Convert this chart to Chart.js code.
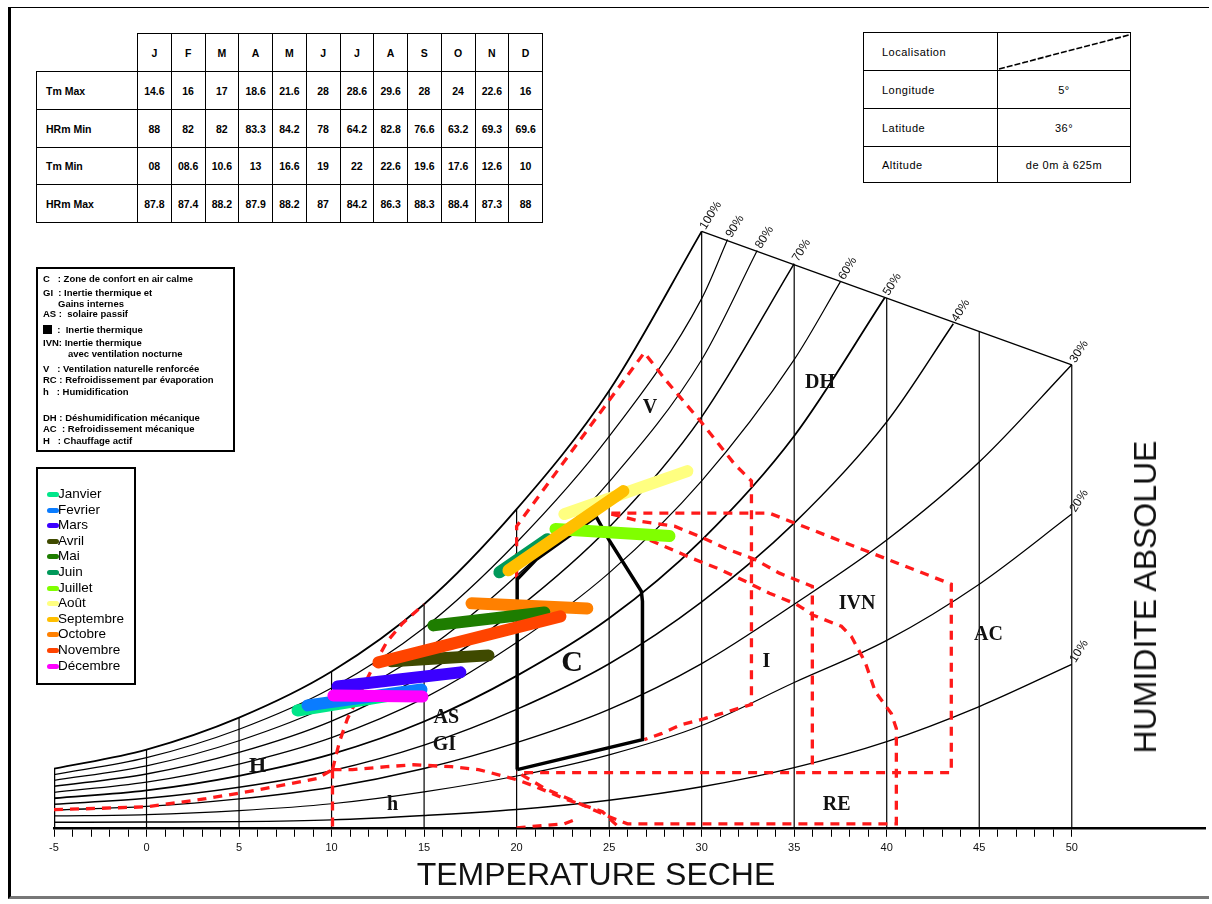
<!DOCTYPE html>
<html lang="fr">
<head>
<meta charset="UTF-8">
<title>Diagramme bioclimatique</title>
<style>
  body { margin: 0; background: #fff; font-family: "Liberation Sans", Arial, sans-serif; }
  #wrap { position: relative; width: 1212px; height: 904px; overflow: hidden; }
  #psy { position: absolute; left: 0; top: 0; }
  .frame { position: absolute; left: 8px; top: 7px; width: 1198px; height: 888px;
           border-left: 3px solid #000; border-top: 1px solid #000; border-bottom: 3px solid #777; }
  table { border-collapse: collapse; position: absolute; background: #fff; table-layout: fixed; }
  #climat { left: 36px; top: 33px; }
  #climat td { border: 1.5px solid #000; font-weight: bold; font-size: 10.5px; text-align: center; padding: 0; }
  #climat td.lbl { text-align: left; padding-left: 9px; }
  #climat td.empty { border: none; }
  #lieu { left: 863px; top: 32px; }
  #lieu td { border: 1.5px solid #000; font-size: 11px; letter-spacing: 0.5px; padding: 0; }
  #lieu td.k { padding-left: 18px; }
  #lieu td.v { text-align: center; }
  .box { position: absolute; border: 2px solid #000; background: #fff; }
  #zones div { position: absolute; font-size: 9.5px; font-weight: bold; white-space: nowrap; line-height: 10px; }
  #mois div { position: absolute; left: 20px; font-size: 13.5px; line-height: 14px; white-space: nowrap; }
  #mois span { position: absolute; left: -11px; top: 5px; width: 12px; height: 5px; border-radius: 3px; }
  .title { position: absolute; font-size: 32px; color: #111; white-space: nowrap; line-height: 36px; }
</style>
</head>
<body>
<div id="wrap">
  <canvas id="psy" width="1212" height="904"></canvas>
  <div class="frame"></div>

  <table id="climat">
    <colgroup>
      <col style="width:101px">
      <col style="width:33.75px"><col style="width:33.75px"><col style="width:33.75px"><col style="width:33.75px">
      <col style="width:33.75px"><col style="width:33.75px"><col style="width:33.75px"><col style="width:33.75px">
      <col style="width:33.75px"><col style="width:33.75px"><col style="width:33.75px"><col style="width:33.75px">
    </colgroup>
    <tbody id="climatBody"></tbody>
  </table>

  <table id="lieu">
    <colgroup><col style="width:134px"><col style="width:133px"></colgroup>
    <tr style="height:38px"><td class="k">Localisation</td>
      <td style="position:relative"><svg width="131" height="36" style="display:block"><line x1="1" y1="35" x2="131" y2="1" stroke="#000" stroke-width="1.6" stroke-dasharray="6,2"/></svg></td></tr>
    <tr style="height:38px"><td class="k">Longitude</td><td class="v">5°</td></tr>
    <tr style="height:38px"><td class="k">Latitude</td><td class="v">36°</td></tr>
    <tr style="height:36px"><td class="k">Altitude</td><td class="v">de 0m à 625m</td></tr>
  </table>

  <div id="zones" class="box" style="left:36px; top:267px; width:195px; height:181px;">
    <div style="left:5px; top:5px">C &nbsp;&nbsp;: Zone de confort en air calme</div>
    <div style="left:5px; top:19px">GI &nbsp;: Inertie thermique et</div>
    <div style="left:20px; top:30px">Gains internes</div>
    <div style="left:5px; top:40px">AS : &nbsp;solaire passif</div>
    <div style="left:5px; top:56px"><span style="display:inline-block; width:9px; height:9px; background:#000; vertical-align:-1px"></span> &nbsp;: &nbsp;Inertie thermique</div>
    <div style="left:5px; top:69px">IVN: Inertie thermique</div>
    <div style="left:30px; top:80px">avec ventilation nocturne</div>
    <div style="left:5px; top:95px">V &nbsp;&nbsp;: Ventilation naturelle renforcée</div>
    <div style="left:5px; top:106px">RC : Refroidissement par évaporation</div>
    <div style="left:5px; top:118px">h &nbsp;&nbsp;: Humidification</div>
    <div style="left:5px; top:144px">DH : Déshumidification mécanique</div>
    <div style="left:5px; top:155px">AC &nbsp;: Refroidissement mécanique</div>
    <div style="left:5px; top:167px">H &nbsp;&nbsp;: Chauffage actif</div>
  </div>

  <div id="mois" class="box" style="left:36px; top:467px; width:96px; height:214px;"></div>

  <div class="title" style="left:596px; top:856px; transform:translateX(-50%)">TEMPERATURE SECHE</div>
  <div class="title" style="left:1145px; top:597px; transform:translate(-50%,-50%) rotate(-90deg)">HUMIDITE ABSOLUE</div>
</div>

<script src="https://cdn.jsdelivr.net/npm/chart.js@4.4.0/dist/chart.umd.min.js"></script>
<script>
// ---- tableau climatique ----
var moisCourts = ['J', 'F', 'M', 'A', 'M', 'J', 'J', 'A', 'S', 'O', 'N', 'D'];
var tmMax  = ['14.6', '16', '17', '18.6', '21.6', '28', '28.6', '29.6', '28', '24', '22.6', '16'];
var hrmMin = ['88', '82', '82', '83.3', '84.2', '78', '64.2', '82.8', '76.6', '63.2', '69.3', '69.6'];
var tmMin  = ['08', '08.6', '10.6', '13', '16.6', '19', '22', '22.6', '19.6', '17.6', '12.6', '10'];
var hrmMax = ['87.8', '87.4', '88.2', '87.9', '88.2', '87', '84.2', '86.3', '88.3', '88.4', '87.3', '88'];

// ---- courbes d'humidite relative (humidite absolue, g/kg) ----
var temps = [-5, 0, 5, 10, 15, 20, 25, 30, 35, 40, 45, 50];
var hr100 = [2.68, 3.55, 5.00, 7.09, 10.14, 14.45, 19.82, 27.05];
var hr90  = [2.41, 3.18, 4.47, 6.34, 9.07, 12.94, 17.75, 24.00];
var hr80  = [2.15, 2.81, 3.95, 5.59, 8.01, 11.43, 15.69, 21.23];
var hr70  = [1.88, 2.44, 3.42, 4.84, 6.95, 9.91, 13.63, 18.64, 25.59];
var hr60  = [1.61, 2.07, 2.89, 4.09, 5.88, 8.40, 11.56, 15.73, 21.23];
var hr50  = [1.34, 1.70, 2.36, 3.34, 4.82, 6.89, 9.50, 13.05, 17.77];
var hr40  = [1.07, 1.34, 1.84, 2.59, 3.75, 5.37, 7.44, 10.25, 13.82, 18.41];
var hr30  = [0.80, 0.97, 1.31, 1.84, 2.69, 3.86, 5.37, 7.45, 10.14, 13.05, 16.59, 21.00];
var hr20  = [0.54, 0.60, 0.78, 1.09, 1.63, 2.35, 3.31, 4.64, 6.59, 8.50, 11.05, 14.23];
var hr10  = [0.25, 0.26, 0.28, 0.36, 0.56, 0.83, 1.25, 1.86, 2.73, 3.91, 5.50, 7.41];
var hrLevels = [100, 90, 80, 70, 60, 50, 40, 30, 20, 10];
var hrEndT = [30, 31.4, 33.0, 35, 37.5, 39.9, 43.6, 50, 50, 50];
var hrEndV = [27.05, 26.68, 26.18, 25.59, 24.77, 24.05, 22.86, 21.00, 14.23, 7.41];
var hrWidth = [1.8, 1.2, 1.2, 1.5, 1.2, 1.8, 1.5, 1.4, 1.2, 1.4];
var limitT = [30, 50];
var limitV = [27.05, 21.00];
var verticalTop = [2.68, 3.55, 5.00, 7.09, 10.14, 14.45, 19.82, 27.05, 25.54, 24.03, 22.51, 21.00];

// ---- zones (traits rouges) ----
var zoneH   = [[-5, 0.82], [0, 0.95], [3.2, 1.32], [6.1, 1.73], [9.2, 2.23], [10.05, 2.64]];
var zoneAS  = [[10.05, 2.64], [10.43, 3.91], [10.86, 4.95], [12.2, 7.23], [13.0, 8.45], [13.83, 9.27], [15.0, 10.14]];
var zoneHum = [[10.05, 2.64], [10.05, 0]];
var zoneGI  = [[10.05, 2.64], [11.13, 2.64], [12.97, 2.77], [14.42, 2.86], [16.48, 2.77], [17.94, 2.64], [19.4, 2.32],
               [20, 2.18], [20.9, 1.91], [22.58, 1.32], [24.64, 0.73], [25.55, 0]];
var zoneRE  = [[20.26, 2.41], [21.56, 1.77], [23.18, 1.18], [25.01, 0.5], [25.99, 0.18], [40.52, 0.18], [40.52, 4.5],
               [40.25, 5.18], [39.38, 6.18], [38.84, 7.5], [38.09, 8.68], [37.55, 9.14], [36.03, 9.64], [35.12, 10.14],
               [33.66, 10.64], [32.36, 11.18], [30.96, 11.73], [29.34, 12.27], [27.98, 12.77], [26.09, 13.45]];
var zoneRE2 = [[20, 0], [22.58, 0.18], [23.12, 0.36]];
var zoneV   = [[20, 11.32], [20, 13.68], [26.9, 21.55], [28.09, 20.27], [29.93, 18.45], [31.77, 16.5], [32.69, 15.73],
               [32.69, 5.59], [31.77, 5.36], [30.15, 4.95], [28.9, 4.68], [27.82, 4.27], [26.9, 4.0]];
var zoneAC  = [[25.12, 14.27], [33.66, 14.27], [43.49, 11.05], [43.49, 2.5], [20, 2.5]];
var zoneIVN = [[25.12, 14.23], [26.63, 13.91], [28.53, 13.68], [29.98, 13.18], [31.39, 12.64], [32.85, 12.18],
               [34.2, 11.55], [35.98, 10.95], [35.98, 2.64]];

// ---- zone de confort ----
var comfortT = [20.03, 20.03, 21.07, 24.3, 25.0, 26.74, 26.8, 26.8, 20.03];
var comfortV = [2.64, 11.27, 12.18, 14.11, 13.05, 10.73, 10.27, 4.0, 2.64];

// ---- mois ----
var monthNames  = ['Janvier', 'Fevrier', 'Mars', 'Avril', 'Mai', 'Juin', 'Juillet', 'Août', 'Septembre', 'Octobre', 'Novembre', 'Décembre'];
var monthColors = ['#00e68a', '#0a7cff', '#3b00ff', '#3f4a00', '#1e7d00', '#00995a', '#80ff00', '#ffff80', '#ffbf00', '#ff8000', '#ff4400', '#ff00ff'];
var monthT1 = [8.16, 8.7, 10.32, 13.24, 15.5, 19.07, 22.1, 22.58, 19.56, 17.56, 12.53, 10.1];
var monthV1 = [5.32, 5.55, 6.41, 7.55, 9.18, 11.59, 13.55, 14.23, 11.68, 10.18, 7.5, 6.0];
var monthT2 = [14.48, 14.86, 16.96, 18.48, 21.5, 21.66, 28.26, 29.23, 25.77, 23.82, 22.37, 14.91];
var monthV2 = [6.18, 6.27, 7.05, 7.82, 9.77, 13.09, 13.23, 16.18, 15.27, 9.95, 9.59, 5.95];
var monthLayer = [2, 1, 1, 2, 2, 2, 1, 1, 0, 2, 1, 0];

// ---- etiquettes des zones ----
var zoneLabels = ['V', 'DH', 'C', 'AS', 'GI', 'H', 'h', 'I', 'IVN', 'AC', 'RE'];
var zoneLabelT = [27.2, 36.4, 23.0, 16.2, 16.1, 6.0, 13.3, 33.5, 38.4, 45.5, 37.3];
var zoneLabelV = [19.05, 20.18, 7.45, 5.0, 3.77, 2.77, 1.05, 7.55, 10.18, 8.73, 1.05];
var zoneLabelSize = [20, 20, 30, 20, 20, 22, 20, 20, 20, 20, 20];

// tableau HTML
function buildTable() {
  var body = document.getElementById('climatBody');
  var html = '<tr style="height:38px"><td class="empty"></td>';
  moisCourts.forEach(function (m) { html += '<td>' + m + '</td>'; });
  html += '</tr>';
  var rows = [['Tm Max', tmMax], ['HRm Min', hrmMin], ['Tm Min', tmMin], ['HRm Max', hrmMax]];
  var heights = [38, 38, 37, 38];
  rows.forEach(function (r, k) {
    html += '<tr style="height:' + heights[k] + 'px"><td class="lbl">' + r[0] + '</td>';
    r[1].forEach(function (v) { html += '<td>' + v + '</td>'; });
    html += '</tr>';
  });
  body.innerHTML = html;
}

function buildMonthLegend() {
  var box = document.getElementById('mois');
  monthNames.forEach(function (name, i) {
    var d = document.createElement('div');
    d.style.top = (18 + 15.6 * i) + 'px';
    d.innerHTML = '<span style="background:' + monthColors[i] + '"></span>' + name;
    box.appendChild(d);
  });
}

function pts(list) {
  return list.map(function (p) { return { x: p[0], y: p[1] }; });
}

function line(points, color, width, extra) {
  var ds = {
    data: points, showLine: true, borderColor: color, borderWidth: width,
    pointRadius: 0, pointHoverRadius: 0, fill: false, tension: 0, order: 30
  };
  return Object.assign(ds, extra || {});
}

function buildDatasets() {
  var sets = [];
  var series = [hr100, hr90, hr80, hr70, hr60, hr50, hr40, hr30, hr20, hr10];

  // mois
  monthNames.forEach(function (name, i) {
    sets.push(line([{ x: monthT1[i], y: monthV1[i] }, { x: monthT2[i], y: monthV2[i] }],
      monthColors[i], 12, { borderCapStyle: 'round', order: monthLayer[i], label: name }));
  });

  // zone de confort
  sets.push(line(comfortT.map(function (t, i) { return { x: t, y: comfortV[i] }; }), '#000', 3.5,
    { order: 10, borderJoinStyle: 'miter' }));

  // zones en pointilles rouges
  [zoneH, zoneAS, zoneHum, zoneGI, zoneRE, zoneRE2, zoneV, zoneAC, zoneIVN].forEach(function (z) {
    sets.push(line(pts(z), '#ff1a1a', 3.3, { borderDash: [9, 7], order: 20 }));
  });

  // courbes HR
  series.forEach(function (s, k) {
    var p = s.map(function (v, i) { return { x: temps[i], y: v }; });
    if (hrEndT[k] > temps[s.length - 1]) p.push({ x: hrEndT[k], y: hrEndV[k] });
    sets.push(line(p, '#000', hrWidth[k], { cubicInterpolationMode: 'monotone' }));
  });

  // limite superieure
  sets.push(line([{ x: limitT[0], y: limitV[0] }, { x: limitT[1], y: limitV[1] }], '#000', 1.3));

  // verticales de temperature
  temps.forEach(function (t, i) {
    sets.push(line([{ x: t, y: 0 }, { x: t, y: verticalTop[i] }], '#000', i === 0 ? 2.5 : 1.2));
  });
  return sets;
}

var labelPlugin = {
  id: 'chartLabels',
  afterDatasetsDraw: function (chart) {
    var ctx = chart.ctx, xs = chart.scales.x, ys = chart.scales.y;
    ctx.save();
    ctx.fillStyle = '#111';
    ctx.textAlign = 'center';
    ctx.textBaseline = 'middle';
    zoneLabels.forEach(function (txt, i) {
      ctx.font = 'bold ' + zoneLabelSize[i] + 'px "Liberation Serif", "Times New Roman", serif';
      ctx.fillText(txt, xs.getPixelForValue(zoneLabelT[i]), ys.getPixelForValue(zoneLabelV[i]));
    });
    ctx.font = '12px "Liberation Sans", Arial, sans-serif';
    ctx.textAlign = 'left';
    ctx.textBaseline = 'middle';
    hrLevels.forEach(function (lv, k) {
      var px = xs.getPixelForValue(hrEndT[k]);
      var py = ys.getPixelForValue(hrEndV[k]);
      ctx.save();
      ctx.translate(px + 1, py - 3);
      ctx.rotate(-58 * Math.PI / 180);
      ctx.fillText(lv + '%', 0, 0);
      ctx.restore();
    });
    ctx.restore();
  }
};

function createChart() {
  var ctx = document.getElementById('psy').getContext('2d');
  new Chart(ctx, {
    type: 'scatter',
    data: { datasets: buildDatasets() },
    plugins: [labelPlugin],
    options: {
      responsive: false,
      animation: false,
      layout: { padding: { left: 54, right: 7, top: 12, bottom: 44 } },
      plugins: { legend: { display: false }, tooltip: { enabled: false } },
      scales: {
        x: {
          type: 'linear', min: -5, max: 57.2,
          afterBuildTicks: function (axis) {
            axis.ticks = axis.ticks.filter(function (t) { return t.value <= 50 && Number.isInteger(t.value); });
          },
          ticks: {
            stepSize: 1, autoSkip: false, maxRotation: 0, padding: 5, color: '#111',
            font: { size: 11, family: '"Liberation Sans", Arial, sans-serif' },
            callback: function (v) { return v % 5 === 0 ? String(v) : ''; }
          },
          grid: { drawOnChartArea: false, drawTicks: true, tickLength: 9, color: '#000', lineWidth: 1 },
          border: { display: true, color: '#000', width: 2.5 }
        },
        y: { type: 'linear', min: 0, max: 37, display: false }
      }
    }
  });
}

buildTable();
buildMonthLegend();
createChart();
</script>
</body>
</html>
